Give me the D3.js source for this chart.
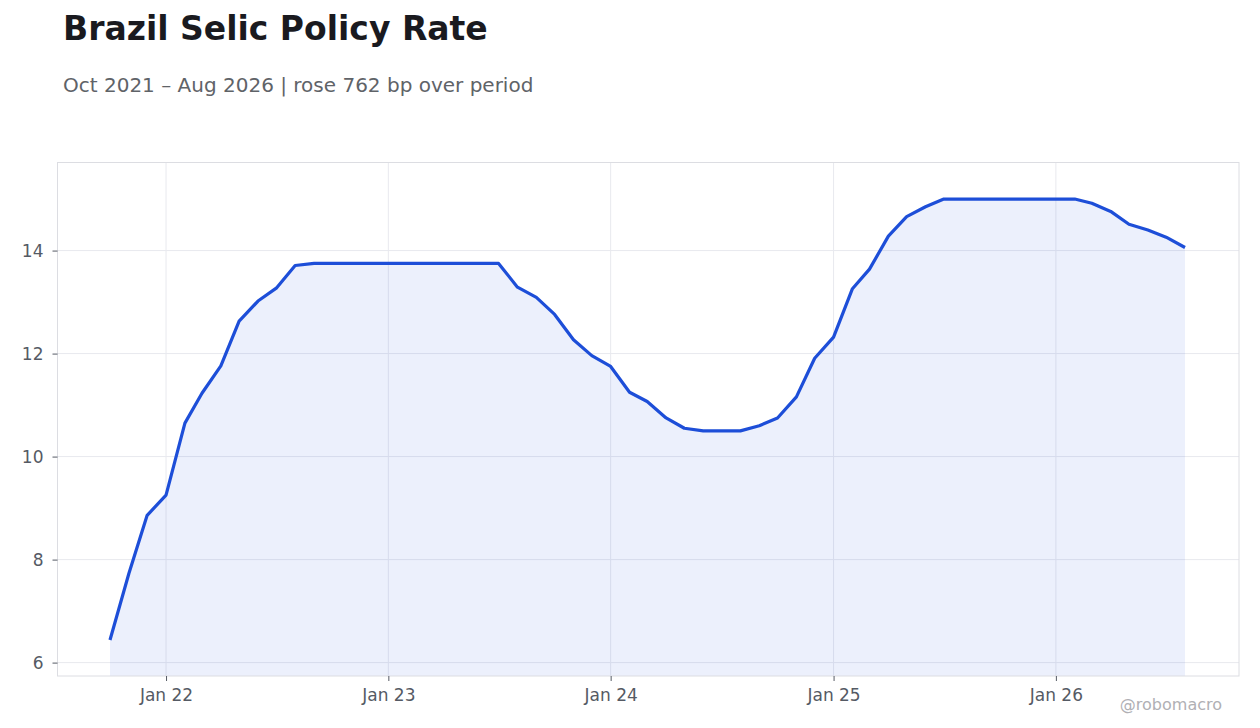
<!DOCTYPE html>
<html><head><meta charset="utf-8">
<script src="https://cdn.jsdelivr.net/npm/d3@7"></script>
<style>body{margin:0;background:#fff;font-family:"DejaVu Sans",sans-serif;}</style>
</head><body><svg id="c" width="1260" height="728"></svg>
<script>
const startMonth = "2021-10";
const rates = [6.44,7.73,8.86,
 9.25,10.65,11.23,11.76,12.63,13.02,13.27,13.71,13.75,13.75,13.75,13.75,
 13.75,13.75,13.75,13.75,13.75,13.75,13.75,13.29,13.09,12.76,12.27,11.96,
 11.75,11.25,11.07,10.75,10.55,10.50,10.50,10.50,10.60,10.75,11.16,11.91,
 12.32,13.26,13.64,14.28,14.66,14.85,15.00,15.00,15.00,15.00,15.00,15.00,
 15.00,15.00,14.92,14.76,14.51,14.40,14.26,14.06];
const yTicks = [6,8,10,12,14];
const xTickYears = [2022,2023,2024,2025,2026];
const title = "Brazil Selic Policy Rate";
const subtitle = "Oct 2021 – Aug 2026 | rose 762 bp over period";
const credit = "@robomacro";

const [sy, sm] = startMonth.split("-").map(Number);
const data = rates.map((v,i)=>({date:new Date(sy, sm-1+i, 1), value:v}));

const svg = d3.select("#c");
const frame = {left:57.5, right:1239, top:162.5, bottom:676};
const x = d3.scaleTime().domain(d3.extent(data,d=>d.date)).range([110,1185]);
const y = d3.scaleLinear().domain([5.74,15.71]).range([frame.bottom, frame.top]);

svg.append("text").attr("x",63).attr("y",40).attr("font-size",33).attr("font-weight","bold").attr("fill","#1a1a1f").text(title);
svg.append("text").attr("x",63).attr("y",92).attr("font-size",20).attr("fill","#5f6368").text(subtitle);

const g = svg.append("g");
const xt = xTickYears.map(yr=>new Date(yr,0,1));
g.selectAll(".gx").data(xt).join("line").attr("x1",d=>x(d)).attr("x2",d=>x(d)).attr("y1",frame.top).attr("y2",frame.bottom).attr("stroke","#e8e9ee").attr("stroke-width",1);
g.selectAll(".gy").data(yTicks).join("line").attr("x1",frame.left).attr("x2",frame.right).attr("y1",d=>y(d)).attr("y2",d=>y(d)).attr("stroke","#e8e9ee").attr("stroke-width",1);

g.append("path").datum(data).attr("fill","rgba(29,78,216,0.085)")
 .attr("d",d3.area().x(d=>x(d.date)).y0(frame.bottom).y1(d=>y(d.value)));
g.append("path").datum(data).attr("fill","none").attr("stroke","#1d4ed8").attr("stroke-width",3.2).attr("stroke-linejoin","round")
 .attr("d",d3.line().x(d=>x(d.date)).y(d=>y(d.value)));

g.append("rect").attr("x",frame.left).attr("y",frame.top).attr("width",frame.right-frame.left).attr("height",frame.bottom-frame.top).attr("fill","none").attr("stroke","#dcdde2").attr("stroke-width",1);

const xAxis = d3.axisBottom(x).tickValues(xt).tickFormat(d3.timeFormat("Jan %y")).tickSize(5).tickPadding(8);
const gxA = svg.append("g").attr("transform",`translate(0,${frame.bottom})`).call(xAxis);
gxA.select(".domain").remove();
gxA.selectAll("line").attr("stroke","#555a64");
gxA.selectAll("text").attr("font-size",17).attr("fill","#555a64").attr("font-family","DejaVu Sans");

const yAxis = d3.axisLeft(y).tickValues(yTicks).tickSize(5).tickPadding(9);
const gyA = svg.append("g").attr("transform",`translate(${frame.left},0)`).call(yAxis);
gyA.select(".domain").remove();
gyA.selectAll("line").attr("stroke","#555a64");
gyA.selectAll("text").attr("font-size",17).attr("fill","#555a64").attr("font-family","DejaVu Sans");

svg.append("text").attr("x",1222).attr("y",710).attr("text-anchor","end").attr("font-size",16).attr("fill","#b0b0b4").text(credit);
</script></body></html>
